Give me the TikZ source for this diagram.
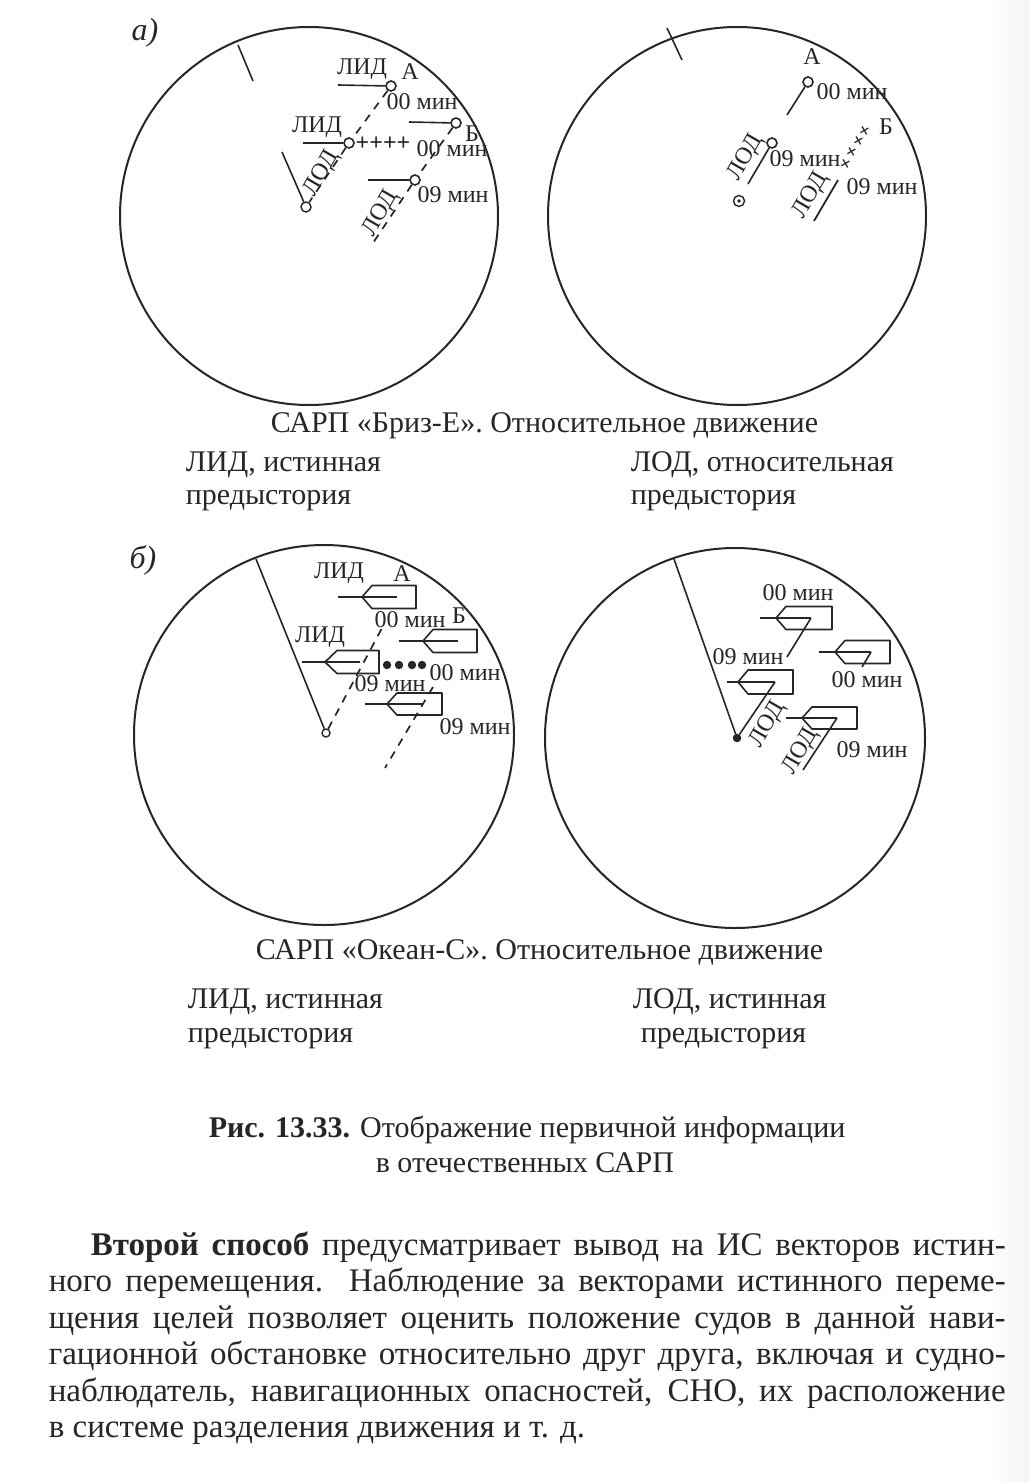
\documentclass[tikz,border=0pt]{standalone}
\usepackage{fontspec}
\setmainfont{Liberation Serif}
\definecolor{ink}{HTML}{262626}
\newcommand{\ls}{\fontsize{24}{26}\selectfont}
\newcommand{\cs}{\fontsize{30}{32}\selectfont}
\newcommand{\bs}{\fontsize{33}{36}\selectfont}
\tikzset{
 x=1pt,y=-1pt,
 scope1/.style={color=ink,text=ink,line width=1.6pt},
 scopecirc/.style={draw=ink,line width=2pt,circle,inner sep=0pt},
 radar/.style={scopecirc,minimum size=#1},
 tgt/.style={draw=ink,line width=1.6pt,circle,inner sep=0pt,minimum size=10pt},
 smalltgt/.style={draw=ink,line width=1.4pt,circle,inner sep=0pt,minimum size=8pt},
 lbl/.style={inner sep=0pt,font=\ls},
 rlbl/.style={lbl,rotate=60},
 captxt/.style={inner sep=0pt,font=\cs,anchor=base west},
 bodytxt/.style={inner sep=0pt,font=\bs,anchor=base west},
 dsh/.style={dash pattern=on 8pt off 7pt,line width=1.7pt},
 ship/.style={line width=1.6pt,line join=round},
}
\newcommand{\shipm}[7]{%
  \draw[ship] (#1,#3) -- (#2,#3) -- (#4,#3-#6) -- (#5,#3-#6) -- (#5,#3+#6) -- (#4,#3+#6) -- (#2,#3);
  \draw[ship] (#2,#3) -- (#7,#3);
}
\begin{document}
\begin{tikzpicture}[scope1]
\useasboundingbox (0,0) rectangle (1029,1482);
\fill[white] (0,0) rectangle (1029,1482);
\shade[left color=white,right color=black!4,draw=none] (985,0) rectangle (1029,1482);

% ---- a) left
\node[inner sep=0pt,font=\fontsize{32}{34}\selectfont\itshape] (la) at (145,33) {а)};
\node[radar=378pt] (r1) at (309,216) {};
\coordinate (r1t) at (238,45); \coordinate (r1te) at (253,81);
\draw (r1t) -- (r1te);
\node[tgt] (a1) at (391,86) {};
\node[tgt] (a2) at (349,143) {};
\node[tgt] (b1) at (456,123) {};
\node[tgt] (b2) at (415,180) {};
\node[smalltgt,minimum size=10pt] (o1) at (306,207) {};
\coordinate (l1) at (338,85); \coordinate (l2) at (303,143);
\coordinate (l3) at (409,122); \coordinate (l4) at (368,180);
\coordinate (l5) at (282,152); \coordinate (d2e) at (373,243);
\draw (l1)--(a1); \draw (l2)--(a2); \draw (l3)--(b1); \draw (l4)--(b2); \draw (l5)--(o1);
\draw[dsh] (a1)--(a2); \draw[dsh] (a2)--(o1); \draw[dsh] (b1)--(b2); \draw[dsh] (b2)--(d2e);
\node[lbl] (t1) at (362,69) {ЛИД};
\node[lbl] (t2) at (410,72) {А};
\node[lbl] (t3) at (422,102) {00 мин};
\node[lbl] (t4) at (317,127) {ЛИД};
\node[lbl] (t5) at (472,134) {Б};
\node[lbl] (t6) at (452,149) {00 мин};
\node[lbl,font=\fontsize{24}{26}\selectfont\bfseries] (t7) at (383,144) {++++};
\node[rlbl] (t8) at (322,174) {ЛОД};
\node[rlbl] (t9) at (381,214) {ЛОД};
\node[lbl] (t10) at (453,195) {09 мин};

% ---- a) right
\node[radar=378pt] (r2) at (737,216) {};
\coordinate (r2t) at (667,28); \coordinate (r2te) at (682,60);
\draw (r2t) -- (r2te);
\node[tgt] (a3) at (808,82) {};
\node[tgt] (a4) at (772,143) {};
\node[smalltgt,minimum size=11pt] (o2) at (739,201) {};
\fill (o2) circle (1.8pt);
\coordinate (m1) at (787,115); \coordinate (m2) at (748,184);
\coordinate (m3) at (838,180); \coordinate (m4) at (814,221);
\draw (a3)--(m1); \draw (a4)--(m2); \draw[line width=1.8pt] (m3)--(m4);
\node[lbl] (u1) at (812,57) {А};
\node[lbl] (u2) at (852,92) {00 мин};
\node[lbl] (u3) at (805,159) {09 мин};
\node[lbl] (u4) at (886,127) {Б};
\node[lbl] (u5) at (882,187) {09 мин};
\node[rlbl] (u6) at (746,158) {ЛОД};
\node[rlbl] (u7) at (811,196) {ЛОД};
\foreach \px/\py [count=\i] in {865/132,859/142,852/153,846/165}
  \node[lbl,font=\fontsize{20}{20}\selectfont\bfseries,rotate=30] (cr\i) at (\px,\py) {+};

% ---- captions a)
\node[captxt] (c1) at (270,432) {САРП «Бриз-Е». Относительное движение};
\node[captxt] (c2) at (185,471) {ЛИД, истинная};
\node[captxt] (c3) at (185,504) {предыстория};
\node[captxt] (c4) at (630,471) {ЛОД, относительная};
\node[captxt] (c5) at (630,504) {предыстория};

% ---- б) left
\node[inner sep=0pt,font=\fontsize{32}{34}\selectfont\itshape] (lb) at (143,560) {б)};
\node[radar=380pt] (r3) at (324,735) {};
\coordinate (r3t) at (256,559);
\node[smalltgt] (o3) at (326,733) {};
\draw (r3t)--(o3);
\shipm{338}{362}{597}{372}{416}{11.5}{397}
\shipm{399}{423}{641}{433}{477}{11.5}{458}
\shipm{302}{325}{662}{337}{379}{11.5}{360}
\shipm{365}{387}{704}{397}{442}{11}{423}
\coordinate (ds1) at (382,628); \coordinate (ds2) at (385,768); \coordinate (ds3) at (433,687);
\draw[dsh] (o3)--(ds1);
\draw[dsh] (ds3)--(ds2);
\foreach \px [count=\i] in {387,399,412,422}
  \fill (\px,665) circle (4.2pt) coordinate (dot\i);
\node[lbl] (v1) at (339,573) {ЛИД};
\node[lbl] (v2) at (402,574) {А};
\node[lbl] (v3) at (410,620) {00 мин};
\node[lbl] (v4) at (459,616) {Б};
\node[lbl] (v5) at (320,637) {ЛИД};
\node[lbl] (v6) at (465,673) {00 мин};
\node[lbl] (v7) at (390,684) {09 мин};
\node[lbl] (v8) at (475,727) {09 мин};

% ---- б) right
\node[radar=380pt] (r4) at (735,738) {};
\coordinate (r4t) at (674,559);
\node[smalltgt,fill=ink,minimum size=7pt] (o4) at (737,738) {};
\draw (r4t)--(o4);
\shipm{760}{776}{618}{786}{832}{11.5}{811}
\shipm{819}{835}{652}{845}{890}{11.5}{871}
\shipm{727}{738}{682}{748}{793}{12}{775}
\shipm{786}{802}{718}{812}{857}{11}{837}
\coordinate (w1) at (811,618); \coordinate (w1e) at (787,657);
\coordinate (w2) at (871,652); \coordinate (w2e) at (862,667);
\coordinate (w3) at (775,682);
\coordinate (w4) at (837,718); \coordinate (w4e) at (803,770);
\draw (w1)--(w1e); \draw (w2)--(w2e); \draw (w3)--(o4); \draw (w4)--(w4e);
\node[lbl] (x1) at (798,593) {00 мин};
\node[lbl] (x2) at (748,657) {09 мин};
\node[lbl] (x3) at (867,680) {00 мин};
\node[lbl] (x4) at (872,750) {09 мин};
\node[rlbl] (x5) at (768,725) {ЛОД};
\node[rlbl] (x6) at (801,752) {ЛОД};

% ---- captions б)
\node[captxt] (d1) at (255,959) {САРП «Океан-С». Относительное движение};
\node[captxt] (d2) at (187,1008) {ЛИД, истинная};
\node[captxt] (d3) at (187,1042) {предыстория};
\node[captxt] (d4) at (632,1008) {ЛОД, истинная};
\node[captxt] (d5) at (640,1042) {предыстория};

% ---- figure caption
\node[captxt] (e1) at (208,1137) {\textbf{Рис. 13.33.} Отображение первичной информации};
\node[captxt] (e2) at (375,1172) {в отечественных САРП};

% ---- body text
\node[bodytxt] (f1) at (90,1255) {\makebox[915pt][s]{\textbf{Второй способ} предусматривает вывод на ИС векторов истин-}};
\node[bodytxt] (f2) at (48,1291) {\makebox[957pt][s]{ного перемещения. Наблюдение за векторами истинного переме-}};
\node[bodytxt] (f3) at (48,1328) {\makebox[957pt][s]{щения целей позволяет оценить положение судов в данной нави-}};
\node[bodytxt] (f4) at (48,1364) {\makebox[957pt][s]{гационной обстановке относительно друг друга, включая и судно-}};
\node[bodytxt] (f5) at (48,1401) {\makebox[957pt][s]{наблюдатель, навигационных опасностей, СНО, их расположение}};
\node[bodytxt] (f6) at (48,1437) {в системе разделения движения и т. д.};
\end{tikzpicture}
\end{document}
